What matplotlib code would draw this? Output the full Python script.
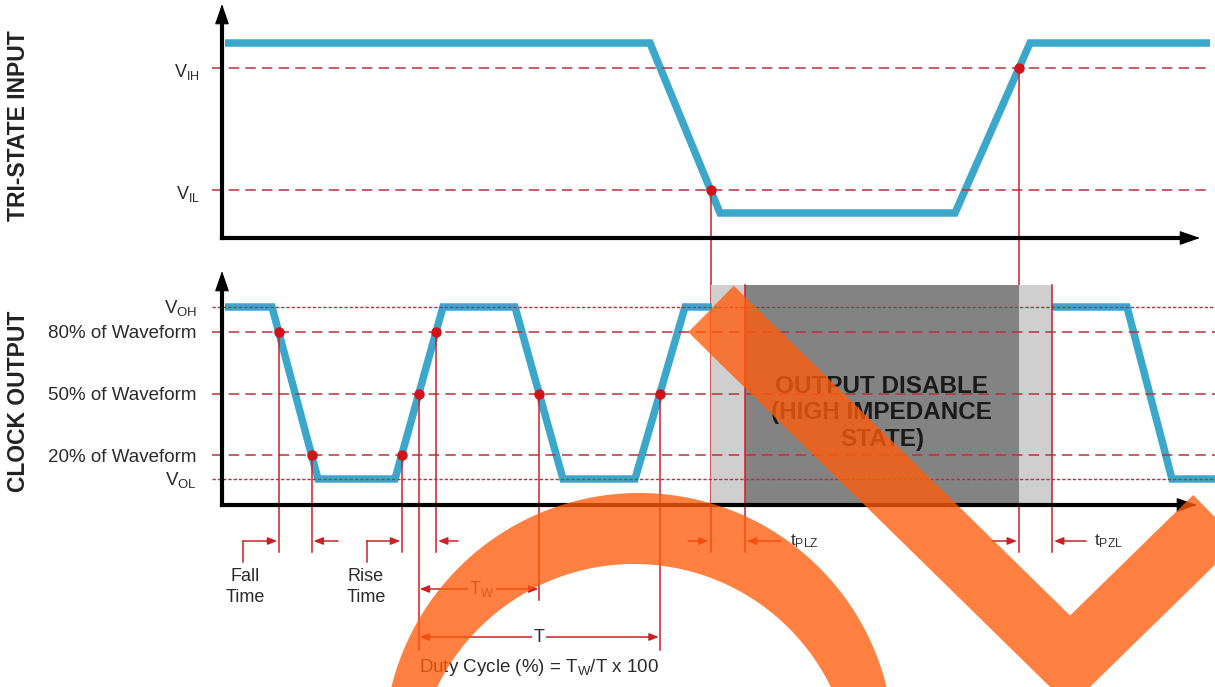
import numpy as np
import matplotlib
matplotlib.use('Agg')
import matplotlib.pyplot as plt
from matplotlib.path import Path
from matplotlib.patches import PathPatch, Rectangle
from matplotlib.lines import Line2D

plt.rcParams['font.family'] = ['Liberation Sans', 'DejaVu Sans']
plt.rcParams['mathtext.fontset'] = 'custom'
plt.rcParams['mathtext.rm'] = 'Liberation Sans'
plt.rcParams['mathtext.it'] = 'Liberation Sans:italic'
plt.rcParams['mathtext.bf'] = 'Liberation Sans:bold'
plt.rcParams['lines.scale_dashes'] = False

# ---------------- data (time units, level units) ----------------
tri_t = [3, 428, 498, 733, 808, 988]
tri_v = [195, 195, 25, 25, 195, 195]
V_IH, V_IL = 170, 48

clk1_t = [3, 50, 96, 173, 221, 293, 341, 413, 463, 490]
clk1_v = [198, 198, 26, 26, 198, 198, 26, 26, 198, 198]
clk2_t = [830, 905, 950, 993]
clk2_v = [198, 198, 26, 26]
V_OH, V_OL = 198, 26
P80, P50, P20 = 173, 111, 50
HIZ_TOP = 220
HIZ_DARK_START = 523
HIZ_END = 830

left_top_labels = [r'V$_{\rm IH}$', r'V$_{\rm IL}$']
left_bot_labels = [r'V$_{\rm OH}$', '80% of Waveform', '50% of Waveform',
                   '20% of Waveform', r'V$_{\rm OL}$']

BLUE = '#3aa7cb'
RED = '#cc2027'
DASHRED = '#b8323a'
DOT = '#d2121b'
TXT = '#2b2b2b'
ORANGE = '#FF5C0A'


def cross(ts, vs, i, level):
    t0, t1, v0, v1 = ts[i], ts[i + 1], vs[i], vs[i + 1]
    return t0 + (level - v0) / (v1 - v0) * (t1 - t0)


t_il = cross(tri_t, tri_v, 1, V_IL)
t_ih = cross(tri_t, tri_v, 3, V_IH)
t_f80 = cross(clk1_t, clk1_v, 1, P80)
t_f20 = cross(clk1_t, clk1_v, 1, P20)
t_r20 = cross(clk1_t, clk1_v, 3, P20)
t_r50 = cross(clk1_t, clk1_v, 3, P50)
t_r80 = cross(clk1_t, clk1_v, 3, P80)
t_f50b = cross(clk1_t, clk1_v, 5, P50)
t_r50b = cross(clk1_t, clk1_v, 7, P50)

W, H = 1215, 687
fig = plt.figure(figsize=(W / 100, H / 100), dpi=100)


def px_axes(x0, y_top, x1, y_bot, **kw):
    return fig.add_axes([x0 / W, 1 - y_bot / H, (x1 - x0) / W, (y_bot - y_top) / H], **kw)


ax1 = px_axes(212, 5, 1215, 238)
ax1.set_xlim(-10, 993)
ax1.set_ylim(0, 233)
ax2 = px_axes(212, 272, 1215, 687)
ax2.set_xlim(-10, 993)
ax2.set_ylim(-182, 233)
for a in (ax1, ax2):
    a.axis('off')
    a.patch.set_alpha(0)

head = dict(arrowstyle='-|>,head_length=1.3,head_width=0.45', color='black',
            lw=0.8, shrinkA=0, shrinkB=0)
small_arrow = dict(arrowstyle='-|>,head_length=0.55,head_width=0.22', color=RED,
                   lw=1.1, shrinkA=0, shrinkB=0)
dbl_arrow = dict(arrowstyle='<|-|>,head_length=0.55,head_width=0.22', color=RED,
                 lw=1.1, shrinkA=0, shrinkB=0)


def draw_axes_arrows(ax, x_end):
    ax.plot([0, 0], [0, 218], color='black', lw=3, solid_capstyle='projecting',
            zorder=7, clip_on=False)
    ax.plot([0, x_end - 14], [0, 0], color='black', lw=3, solid_capstyle='projecting',
            zorder=7, clip_on=False)
    ax.annotate('', xy=(0, 234), xytext=(0, 214), arrowprops=head,
                annotation_clip=False, zorder=7)
    ax.annotate('', xy=(x_end, 0), xytext=(x_end - 20, 0), arrowprops=head,
                annotation_clip=False, zorder=7)


# ---------------- top panel ----------------
ax1.plot(tri_t, tri_v, color=BLUE, lw=5.4, solid_joinstyle='miter',
         solid_capstyle='butt', zorder=3)
for lv in (V_IH, V_IL):
    ax1.plot([-10, 988], [lv, lv], color=DASHRED, lw=1.1, dashes=(7.5, 4.5), zorder=4)
draw_axes_arrows(ax1, 978)
for t, lv in ((t_il, V_IL), (t_ih, V_IH)):
    ax1.plot([t, t], [lv, -314], color=RED, lw=1.1, clip_on=False, zorder=5)
    ax1.plot([t], [lv], 'o', color=DOT, ms=6.5, zorder=6, clip_on=False)
for lab, lv in zip(left_top_labels, (V_IH, V_IL)):
    ax1.text(-22, lv - 9, lab, ha='right', va='baseline', fontsize=13, color=TXT,
             clip_on=False)

# ---------------- bottom panel ----------------
ax2.add_patch(Rectangle((t_il, 0), HIZ_END - t_il, HIZ_TOP, color='#cfcfcf', zorder=1, lw=0))
ax2.add_patch(Rectangle((HIZ_DARK_START, 0), t_ih - HIZ_DARK_START, HIZ_TOP,
                        color='#838383', zorder=1, lw=0))
ax2.plot(clk1_t, clk1_v, color=BLUE, lw=5.4, solid_joinstyle='miter',
         solid_capstyle='butt', zorder=3)
ax2.plot(clk2_t, clk2_v, color=BLUE, lw=5.4, solid_joinstyle='miter',
         solid_capstyle='butt', zorder=3)
for lv in (V_OH, V_OL):
    ax2.plot([-10, 993], [lv, lv], color=DASHRED, lw=1.0, dashes=(2.4, 1.4), zorder=4)
for lv in (P80, P50, P20):
    ax2.plot([-10, 993], [lv, lv], color=DASHRED, lw=1.1, dashes=(7.5, 4.5), zorder=4)
draw_axes_arrows(ax2, 975)

verticals = [(t_f80, P80, -47), (t_f20, P20, -47), (t_r20, P20, -47),
             (t_r50, P50, -145), (t_r80, P80, -47), (t_f50b, P50, -95),
             (t_r50b, P50, -145), (HIZ_DARK_START, HIZ_TOP, -47), (HIZ_END, HIZ_TOP, -47)]
for t, lv, ye in verticals:
    ax2.plot([t, t], [lv, ye], color=RED, lw=1.1, zorder=5, clip_on=False)
dots_t = [t_f80, t_f20, t_r20, t_r50, t_r80, t_f50b, t_r50b]
dots_v = [P80, P20, P20, P50, P80, P50, P50]
ax2.plot(dots_t, dots_v, 'o', color=DOT, ms=6.5, zorder=6, ls='none')

for lab, lv in zip(left_bot_labels, (V_OH, P80, P50, P20, V_OL)):
    ax2.text(-25, lv - 6.5, lab, ha='right', va='baseline', fontsize=13.5,
             color=TXT, clip_on=False)

ax2.text((HIZ_DARK_START + t_ih) / 2, 92, 'OUTPUT DISABLE\n(HIGH IMPEDANCE\nSTATE)',
         ha='center', va='center', fontsize=17.5, fontweight='bold', color='#1a1a1a',
         linespacing=1.22, zorder=8)

# annotations below
YA = -36
ax2.plot([21, 21], [-57, YA], color=RED, lw=1.1, zorder=5)
ax2.annotate('', xy=(t_f80 - 1.5, YA), xytext=(21, YA), arrowprops=small_arrow)
ax2.annotate('', xy=(t_f20 + 2, YA), xytext=(116, YA), arrowprops=small_arrow)
ax2.text(23, -82, 'Fall\nTime', ha='center', va='center', fontsize=13,
         color=TXT, linespacing=1.25)
ax2.plot([145, 145], [-57, YA], color=RED, lw=1.1, zorder=5)
ax2.annotate('', xy=(t_r20 - 1.5, YA), xytext=(145, YA), arrowprops=small_arrow)
ax2.annotate('', xy=(t_r80 + 2, YA), xytext=(236, YA), arrowprops=small_arrow)
ax2.text(144, -82, 'Rise\nTime', ha='center', va='center', fontsize=13,
         color=TXT, linespacing=1.25)

ax2.annotate('', xy=(t_f50b - 1, -84), xytext=(t_r50 + 1, -84), arrowprops=dbl_arrow)
ax2.text((t_r50 + t_f50b) / 2 + 3, -84, r'T$_{\rm W}$', ha='center', va='center',
         fontsize=13, color='#555555',
         bbox=dict(boxstyle='square,pad=0.1', fc='white', ec='none'))
ax2.annotate('', xy=(t_r50b - 1, -132), xytext=(t_r50 + 1, -132), arrowprops=dbl_arrow)
ax2.text((t_r50 + t_r50b) / 2, -132, 'T', ha='center', va='center', fontsize=13,
         color=TXT, bbox=dict(boxstyle='square,pad=0.1', fc='white', ec='none'))
ax2.text((t_r50 + t_r50b) / 2, -162, r'Duty Cycle (%) = T$_{\rm W}$/T x 100',
         ha='center', va='center', fontsize=13.5, color=TXT)

ax2.annotate('', xy=(t_il - 2, YA), xytext=(466, YA), arrowprops=small_arrow)
ax2.annotate('', xy=(HIZ_DARK_START + 2, YA), xytext=(559, YA), arrowprops=small_arrow)
ax2.text(568, YA, r't$_{\rm PLZ}$', ha='left', va='center', fontsize=12.5, color='#333333')
ax2.annotate('', xy=(t_ih - 2, YA), xytext=(770, YA), arrowprops=small_arrow)
ax2.annotate('', xy=(HIZ_END + 2, YA), xytext=(864, YA), arrowprops=small_arrow)
ax2.text(872, YA, r't$_{\rm PZL}$', ha='left', va='center', fontsize=12.5, color='#333333')

fig.text(19 / W, 1 - 126 / H, 'TRI-STATE INPUT', rotation=90, ha='center', va='center',
         fontsize=16.5, fontweight='bold', color='#222222')
fig.text(19 / W, 1 - 401 / H, 'CLOCK OUTPUT', rotation=90, ha='center', va='center',
         fontsize=16.5, fontweight='bold', color='#222222')

# ---------------- orange watermark overlay ----------------
ov = fig.add_axes([0, 0, 1, 1], zorder=20)
ov.set_xlim(0, W)
ov.set_ylim(H, 0)
ov.axis('off')
ov.patch.set_alpha(0)
ring_outer = (639, 748, 255)
ring_inner = (634, 783, 219)
th = np.linspace(0, 2 * np.pi, 361)
outer = np.c_[ring_outer[0] + ring_outer[2] * np.cos(th), ring_outer[1] + ring_outer[2] * np.sin(th)]
inner = np.c_[ring_inner[0] + ring_inner[2] * np.cos(th[::-1]),
              ring_inner[1] + ring_inner[2] * np.sin(th[::-1])]
codes = [Path.MOVETO] + [Path.LINETO] * 359 + [Path.CLOSEPOLY]
ring = Path(np.vstack([outer, inner]), codes + codes)
ov.add_patch(PathPatch(ring, facecolor=ORANGE, edgecolor='none', alpha=0.78))
check_x = [711, 1070, 1250]
check_y = [309, 661, 485]
ov.add_line(Line2D(check_x, check_y, lw=46.8, color=ORANGE, alpha=0.78,
                   solid_joinstyle='miter', solid_capstyle='butt'))

fig.savefig('out.png', dpi=100)
